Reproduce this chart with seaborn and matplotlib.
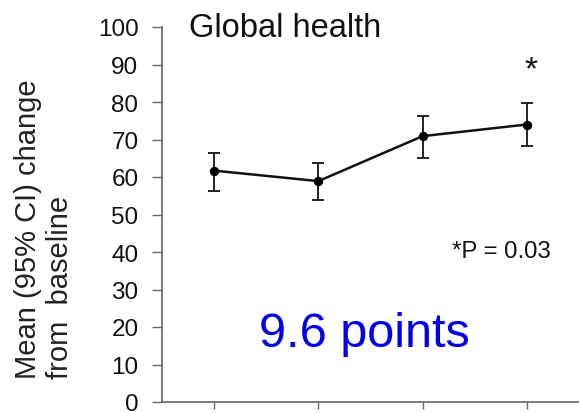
import matplotlib
matplotlib.use("Agg")
import matplotlib.pyplot as plt
import seaborn as sns
import pandas as pd
import numpy as np

visits = [0, 1, 2, 3]
means = [61.7, 58.9, 70.9, 74.0]
ci_low = [56.4, 54.0, 65.2, 68.2]
ci_high = [66.5, 63.8, 76.4, 79.8]
yticks = [0, 10, 20, 30, 40, 50, 60, 70, 80, 90, 100]

sns.set_theme(style="ticks")
plt.rcParams['font.family'] = ['Liberation Sans', 'DejaVu Sans']

df = pd.DataFrame({"visit": visits, "mean": means})

W, H = 579, 414
fig = plt.figure(figsize=(W / 100, H / 100), dpi=100)
ax = fig.add_axes([162 / W, (H - 403) / H, (W - 162) / W, (403 - 28) / H])

ax.errorbar(visits, means,
            yerr=[np.array(means) - np.array(ci_low), np.array(ci_high) - np.array(means)],
            fmt='none', ecolor='#222222', elinewidth=1.4, capsize=4, capthick=1.4, zorder=2)
sns.lineplot(data=df, x="visit", y="mean", ax=ax, color="#111111", linewidth=1.8,
             marker="o", markersize=6, markeredgecolor="black", markerfacecolor="black", zorder=3)

ax.set_xlim(-0.5, 3.5)
ax.set_ylim(0, 100)
ax.set_yticks(yticks)
ax.set_yticklabels([str(t) for t in yticks], fontsize=17.5)
ax.set_xticks(visits)
ax.set_xticklabels([])
ax.set_xlabel("")
ax.set_ylabel("")
ax.tick_params(axis='y', length=7, width=1, color="#666666", labelcolor="#111111", pad=10)
ax.tick_params(axis='x', length=5, width=1, color="#666666")
for s in ["top", "right"]:
    ax.spines[s].set_visible(False)
for s in ["left", "bottom"]:
    ax.spines[s].set_color("#666666")
    ax.spines[s].set_linewidth(1.2)

fig.text(44 / W, 1 - 229 / H, "Mean (95% CI) change\nfrom  baseline", rotation=90,
         ha="center", va="center", multialignment="left", fontsize=21,
         linespacing=1.2, color="#222222")
fig.text(189 / W, 1 - 37 / H, "Global health", fontsize=23.5,
         ha="left", va="baseline", color="#111111")
ax.text(3.04, 88.7, "*", fontsize=24, ha="center", va="center", color="#111111")
fig.text(452 / W, 1 - 258 / H, "*P = 0.03", fontsize=17.3,
         ha="left", va="baseline", color="#111111")
fig.text(259 / W, 1 - 347 / H, "9.6 points", fontsize=35,
         ha="left", va="baseline", color="#0000ee")

fig.savefig("out.png", dpi=100)
